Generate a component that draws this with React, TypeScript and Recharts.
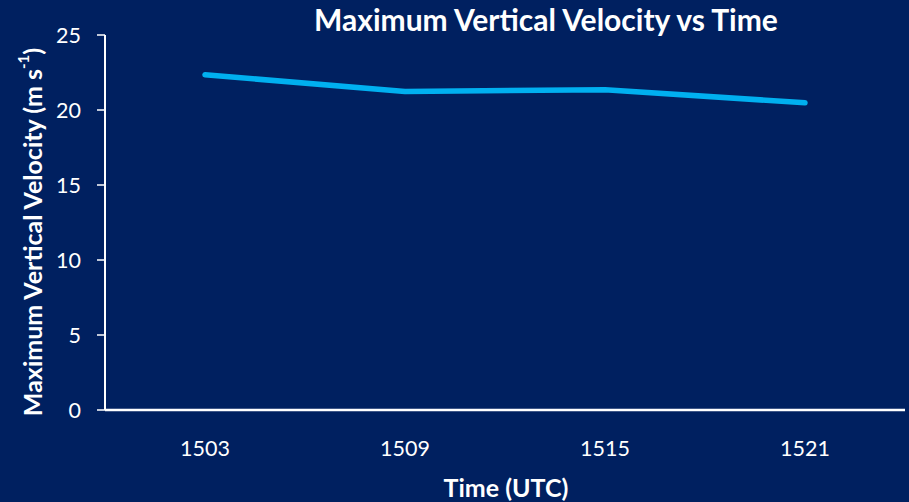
import React from "react";
import { LineChart, Line, XAxis, YAxis } from "recharts";

const times = ["1503", "1509", "1515", "1521"];
const maxVerticalVelocity = [22.35, 21.23, 21.35, 20.48];
const yTicks = [0, 5, 10, 15, 20, 25];

const data = times.map((t, i) => ({ time: t, w: maxVerticalVelocity[i] }));

const BG = "#002060";
const FONT = "Lato, 'Open Sans', sans-serif";

export default function App() {
  return (
    <div
      style={{
        position: "absolute",
        left: 0,
        top: 0,
        width: 909,
        height: 502,
        background: BG,
        fontFamily: FONT,
      }}
    >
      <div
        style={{
          position: "absolute",
          left: 0,
          width: 1092,
          top: 1,
          textAlign: "center",
          color: "#fff",
          fontWeight: 700,
          fontSize: 30,
          lineHeight: "36px",
        }}
      >
        Maximum Vertical Velocity vs Time
      </div>
      <LineChart
        width={909}
        height={502}
        data={data}
        margin={{ top: 35, right: 4, bottom: 0, left: 0 }}
        style={{ position: "absolute", left: 0, top: 0 }}
      >
        <XAxis
          dataKey="time"
          height={92}
          padding={{ left: 100, right: 100 }}
          axisLine={{ stroke: "#fff", strokeWidth: 2.5 }}
          tickLine={false}
          tickSize={0}
          tickMargin={31}
          tick={{ fill: "#fff", fontSize: 21.5, fontFamily: FONT }}
          label={{
            content: () => (
              <text
                x={506}
                y={487}
                textAnchor="middle"
                dominantBaseline="central"
                fill="#fff"
                fontSize={25}
                fontWeight={700}
                fontFamily={FONT}
              >
                Time (UTC)
              </text>
            ),
          }}
        />
        <YAxis
          type="number"
          domain={[0, 25]}
          ticks={yTicks}
          width={105}
          axisLine={{ stroke: "#fff", strokeWidth: 2 }}
          tickLine={{ stroke: "#fff", strokeWidth: 1.5 }}
          tickSize={8}
          tickMargin={16}
          tick={{ fill: "#fff", fontSize: 21.5, fontFamily: FONT }}
          label={{
            content: () => (
              <text
                x={32}
                y={232}
                transform="rotate(-90 32 232)"
                textAnchor="middle"
                dominantBaseline="central"
                fill="#fff"
                fontSize={25}
                fontWeight={700}
                fontFamily={FONT}
              >
                Maximum Vertical Velocity (m s
                <tspan fontSize={15} dy={-9}>-1</tspan>
                <tspan dy={9}>)</tspan>
              </text>
            ),
          }}
        />
        <Line
          type="linear"
          dataKey="w"
          stroke="#00B0F0"
          strokeWidth={5.5}
          strokeLinecap="round"
          strokeLinejoin="round"
          dot={false}
          activeDot={false}
          isAnimationActive={false}
        />
      </LineChart>
    </div>
  );
}
